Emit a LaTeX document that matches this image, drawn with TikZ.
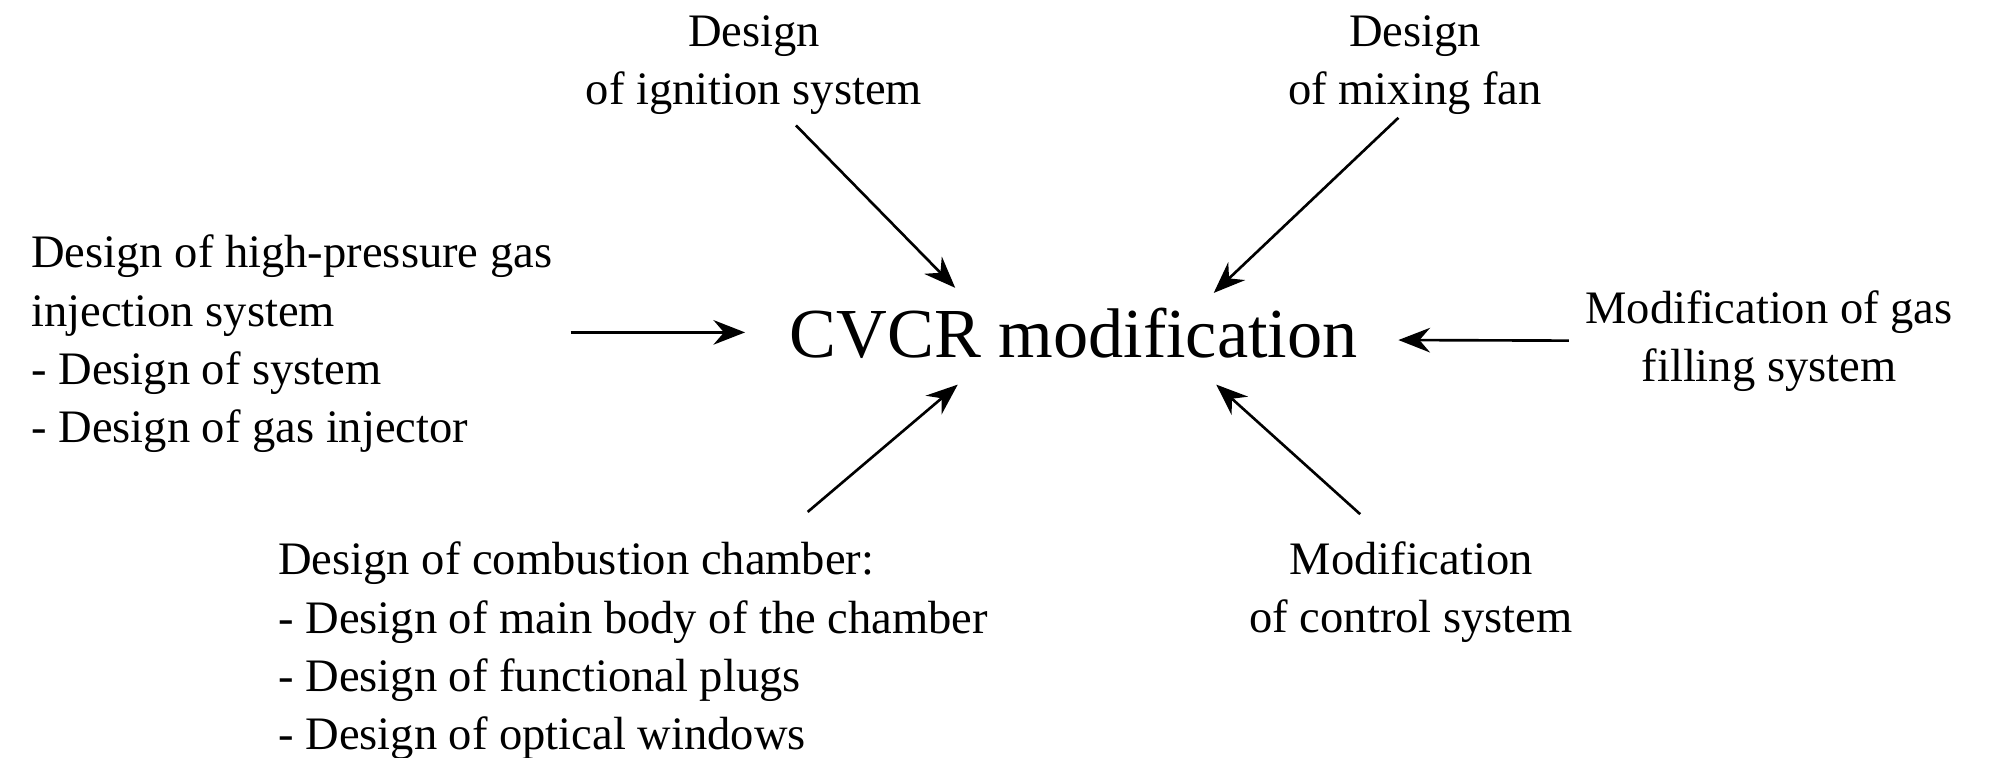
\documentclass[tikz,border=0pt]{standalone}
\usepackage{fontspec}
\setmainfont{Liberation Serif}
\usetikzlibrary{arrows.meta, calc}

\tikzset{
    topic/.style={font=\fontsize{13.25}{16.6}\selectfont, inner sep=0pt},
    into/.style={-{Stealth[length=9pt, width=7pt, inset=3pt]}, line width=.75pt},
}

\begin{document}
\begin{tikzpicture}[x=0.012736cm, y=-0.012736cm]
    \useasboundingbox (0, 0) rectangle (1568, 595);

    \node (cvcr) at (843, 262) 
        [inner sep=0pt, font=\fontsize{20}{24}\selectfont] 
        {CVCR modification};

    % Topics around the modification
    \node (ignition) at (592, 51) 
        [topic, align=center] 
        {Design\\of ignition system};
    \node (mixing) at (1111, 51) 
        [topic, align=center] 
        {Design\\of mixing fan};
    \node (injection) at (24, 270) 
        [topic, align=left, anchor=west] 
        {Design of high-pressure gas\\injection system\\- Design of system\\- Design of gas injector};
    \node (filling) at (1389, 268) 
        [topic, align=center] 
        {Modification of gas\\filling system};
    \node (chamber) at (218, 511) 
        [topic, align=left, anchor=west] 
        {Design of combustion chamber:\\- Design of main body of the chamber\\- Design of functional plugs\\- Design of optical windows};
    \node (control) at (1108, 465) 
        [topic, align=center] 
        {Modification\\of control system};

    % Arrow tips
    \coordinate (ignition tip) at (750, 226);
    \coordinate (mixing tip) at (953, 230);
    \coordinate (injection tip) at (585, 261);
    \coordinate (filling tip) at (1098, 267);
    \coordinate (chamber tip) at (752, 302);
    \coordinate (control tip) at (955, 302);

    \draw [into] ([shift={(33, 8)}]ignition.south) -- (ignition tip);
    \draw [into] ([shift={(-13, 2)}]mixing.south) -- (mixing tip);
    \draw [into, shorten <=5pt] (injection.east |- injection tip) -- (injection tip);
    \draw [into, shorten <=4.5pt] (filling) -- (filling tip);
    \draw [into] ([shift={(137, -23)}]chamber.north) -- (chamber tip);
    \draw [into] ([shift={(-40, -21)}]control.north) -- (control tip);
\end{tikzpicture}
\end{document}
